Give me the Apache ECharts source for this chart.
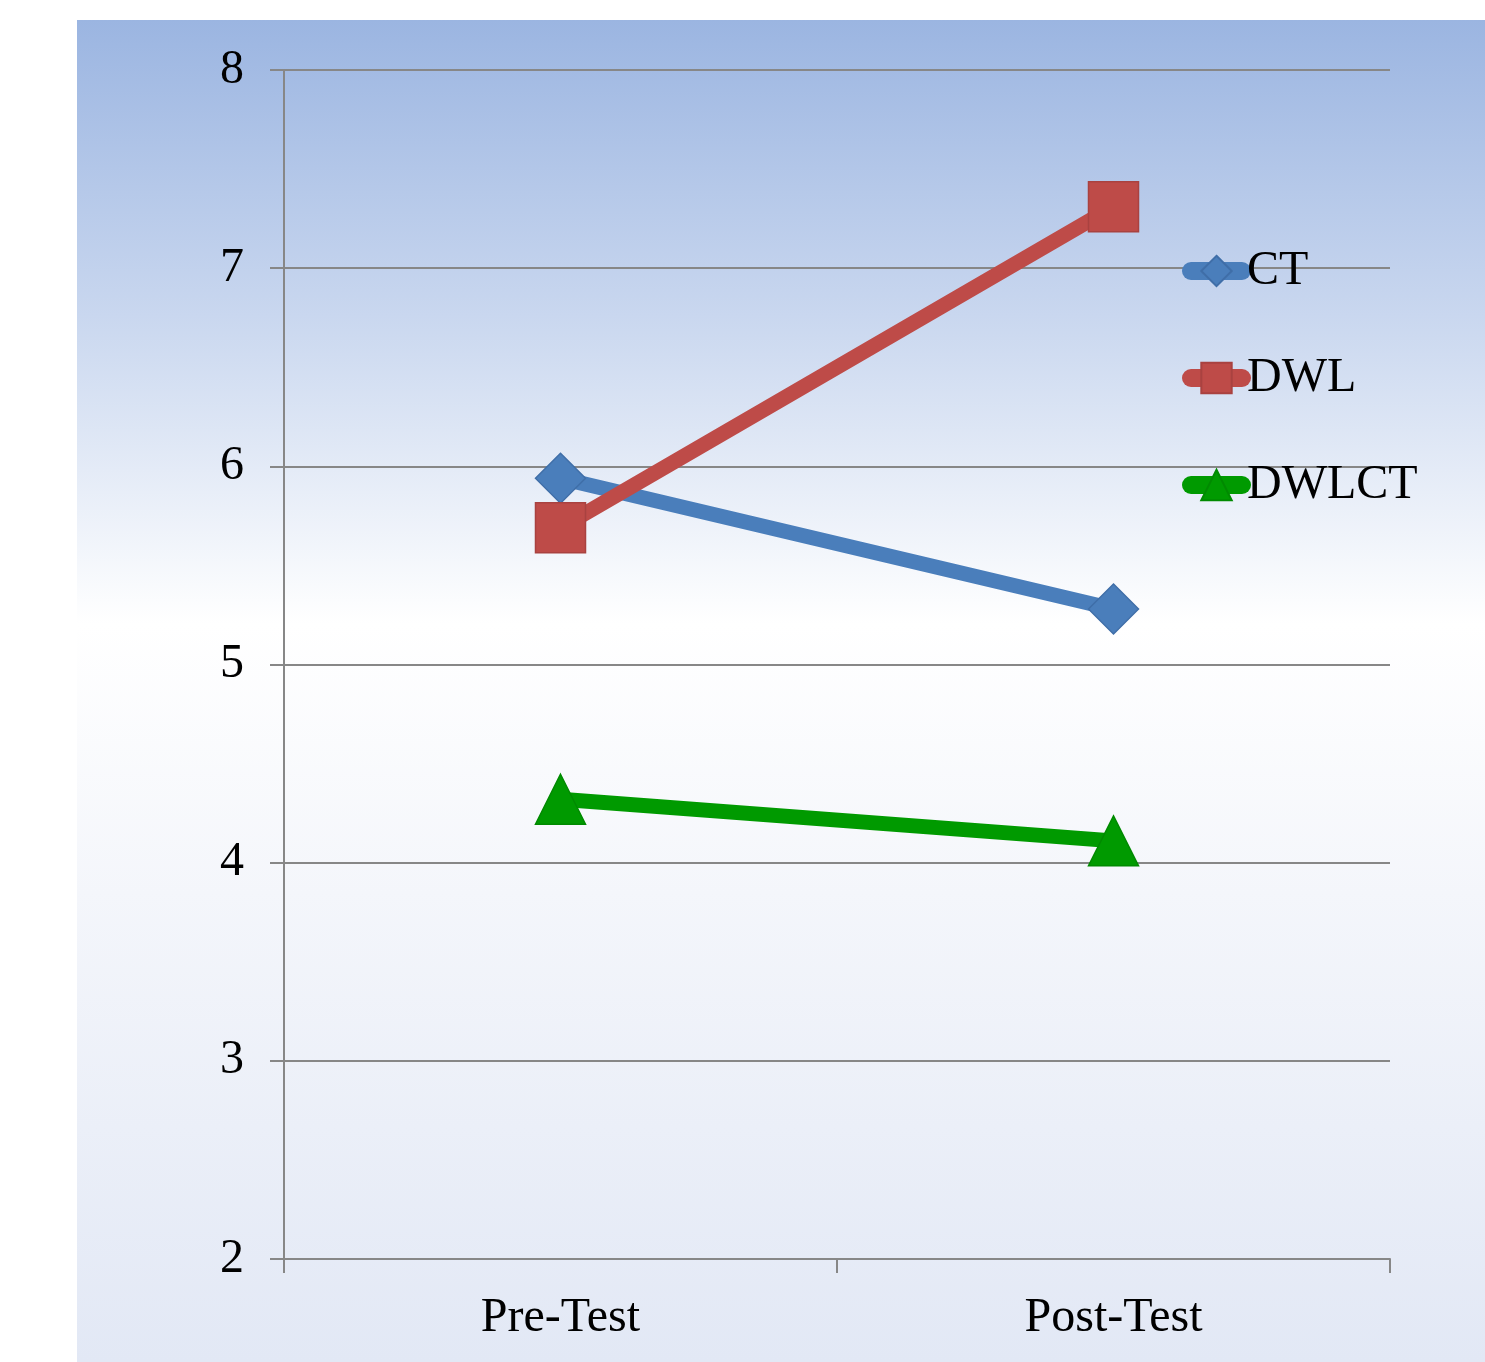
<!DOCTYPE html>
<html>
<head>
<meta charset="utf-8">
<script src="https://cdn.jsdelivr.net/npm/echarts@6/dist/echarts.min.js"></script>
<style>
  html, body { margin: 0; padding: 0; background: #ffffff; }
  #wrap { position: relative; width: 1485px; height: 1362px; }
  #bg {
    position: absolute; left: 77px; top: 20px; width: 1408px; height: 1342px;
    background: linear-gradient(to bottom, #9BB5E1 0%, #C9D7EF 22%, #FFFFFF 45%, #F4F6FB 65%, #E2E8F5 100%);
  }
  #chart { position: absolute; left: 0; top: 0; width: 1485px; height: 1362px; }
</style>
</head>
<body>
<div id="wrap">
  <div id="bg"></div>
  <div id="chart"></div>
</div>
<script>
// Mean scores before and after the intervention
const categories = ['Pre-Test', 'Post-Test'];
const ctValues = [5.94, 5.28];
const dwlValues = [5.69, 7.31];
const dwlctValues = [4.32, 4.11];
const yTicks = { min: 2, max: 8, interval: 1 };

const serif = "'Liberation Serif', 'Times New Roman', serif";
const axisGray = '#878787';

const chart = echarts.init(document.getElementById('chart'), null, { renderer: 'canvas' });

function lineSeries(name, data, color, border, symbol) {
  return {
    name: name,
    type: 'line',
    data: data,
    symbol: symbol,
    symbolSize: 50,
    lineStyle: { width: 15, color: color, cap: 'round' },
    itemStyle: { color: color, borderColor: border, borderWidth: 1.5 },
    emphasis: { disabled: true },
    animation: false
  };
}

chart.setOption({
  backgroundColor: 'transparent',
  animation: false,
  grid: { left: 284, top: 70, right: 95, bottom: 103, containLabel: false },
  legend: {
    orient: 'vertical',
    left: 1177,
    top: 242,
    itemWidth: 51,
    itemHeight: 38,
    itemGap: 59,
    lineStyle: { width: 18, cap: 'round' },
    textStyle: { fontFamily: serif, fontSize: 48, color: '#000000' },
    data: ['CT', 'DWL', 'DWLCT']
  },
  xAxis: {
    type: 'category',
    data: categories,
    boundaryGap: true,
    axisLine: { show: true, lineStyle: { color: axisGray, width: 2 } },
    axisTick: { show: true, length: 14, interval: 0, lineStyle: { color: axisGray, width: 2 } },
    axisLabel: { fontFamily: serif, fontSize: 48, color: '#000000', margin: 35 },
    splitLine: { show: false }
  },
  yAxis: {
    type: 'value',
    min: yTicks.min,
    max: yTicks.max,
    interval: yTicks.interval,
    axisLine: { show: true, lineStyle: { color: axisGray, width: 2 } },
    axisTick: { show: true, length: 14, lineStyle: { color: axisGray, width: 2 } },
    axisLabel: { fontFamily: serif, fontSize: 48, color: '#000000', margin: 40 },
    splitLine: { show: true, lineStyle: { color: axisGray, width: 2 } }
  },
  series: [
    lineSeries('CT', ctValues, '#4A7EBB', '#3F6EA8', 'diamond'),
    lineSeries('DWL', dwlValues, '#BE4B48', '#A94240', 'rect'),
    lineSeries('DWLCT', dwlctValues, '#009A00', '#008A00', 'triangle')
  ]
});
</script>
</body>
</html>
